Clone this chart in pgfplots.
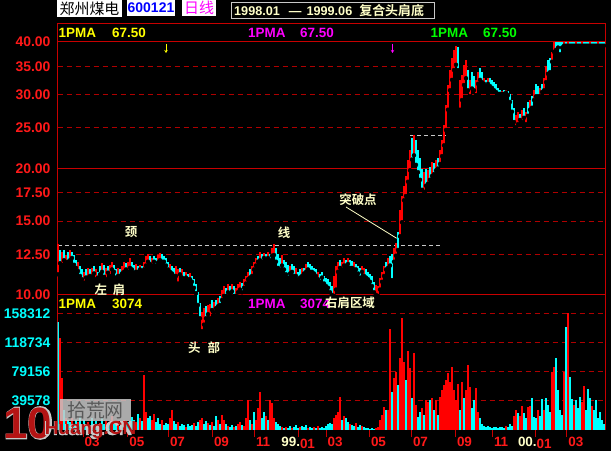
\documentclass[border=0pt]{standalone}
\usepackage{pgfplots}
\pgfplotsset{compat=1.18}
\usepackage{pgfplotstable}
\usepackage{fontspec}
\usetikzlibrary{arrows.meta}
\setmainfont{Liberation Sans}
\newfontfamily\cjk{Noto Sans CJK SC}[BoldFont={* Bold}]
\newfontfamily\wmthick{Liberation Sans}[FakeBold=6]

\definecolor{framec}{RGB}{200,0,0}
\definecolor{gridc}{RGB}{175,0,0}
\definecolor{labc}{RGB}{255,25,25}
\definecolor{upc}{RGB}{255,0,0}
\definecolor{dnc}{RGB}{0,255,255}
\definecolor{cream}{RGB}{255,255,200}
\definecolor{neck}{RGB}{200,200,200}
\definecolor{pmay}{RGB}{255,255,0}
\definecolor{pmam}{RGB}{255,0,255}
\definecolor{pmag}{RGB}{0,255,0}
\definecolor{wmred}{RGB}{180,20,20}
\definecolor{wmgray}{RGB}{200,200,200}

% daily bars: x position, low, high, bar colour (1 up / 0 down), volume, volume colour
\pgfplotstableread{
x lo hi cp v cv
58 11.2 13.2 1 146600 0
60 11.9 12.8 0 124800 1
62 11.8 12.65 1 70600 1
64 12.1 12.8 0 27100 0
66 11.95 12.45 1 16300 1
68 12.0 12.65 0 13600 0
70 12.1 12.8 1 10900 0
72 12.25 12.65 0 16300 1
74 11.8 12.45 0 8100 0
76 11.6 12.1 0 13600 0
78 11.4 12.0 1 10900 1
80 11.1 11.75 0 19000 0
82 10.9 11.5 0 8100 1
84 10.7 11.35 1 13600 0
86 11.0 11.5 0 8100 0
88 11.0 11.6 1 10900 1
90 11.1 11.5 0 6800 0
92 11.05 11.6 1 16300 0
94 11.25 11.75 0 8100 1
96 10.9 11.5 1 12200 0
98 11.0 11.35 0 5400 0
100 11.2 11.75 0 9500 1
102 11.35 11.9 1 16300 0
104 11.05 11.8 0 8100 0
106 10.9 11.6 1 12200 1
108 11.3 11.75 0 6800 0
110 11.1 11.8 1 10900 0
112 11.5 12.0 1 19000 1
114 11.35 11.8 0 8100 0
116 11.0 11.5 0 6800 0
118 11.1 11.6 1 12200 1
120 11.1 11.5 0 5400 0
122 11.25 11.75 1 9500 0
124 11.35 12.0 1 13600 1
126 11.5 11.9 0 8100 0
128 11.35 12.0 1 10900 0
130 11.6 12.25 1 6800 1
132 11.5 12.0 0 17600 0
134 11.3 11.8 0 13600 0
136 11.35 11.85 1 10900 1
138 11.35 11.75 0 21700 0
140 11.5 11.8 1 16300 1
142 11.35 11.75 0 12200 0
144 11.5 12.0 1 74600 1
146 11.75 12.4 1 24400 1
148 12.0 12.5 1 16300 0
150 11.85 12.4 0 19000 0
152 11.75 12.25 1 13600 1
154 12.0 12.4 0 21700 1
156 11.75 12.25 0 10900 0
158 11.95 12.45 1 16300 0
160 12.1 12.6 1 8100 0
162 12.0 12.5 0 13600 1
164 12.0 12.4 0 6800 0
166 11.75 12.25 0 9500 0
168 11.5 12.0 0 8100 0
170 11.35 11.85 1 16300 1
172 11.25 11.75 0 27100 1
174 11.1 11.6 0 12200 0
176 11.1 11.75 1 8100 0
178 10.65 11.5 1 10900 1
180 11.2 11.6 0 5400 0
182 11.0 11.5 1 8100 0
184 10.9 11.35 0 6800 0
186 11.0 11.35 1 4100 1
188 10.9 11.25 0 8100 0
190 10.9 11.3 1 5400 0
192 10.75 11.1 0 6800 0
194 10.4 10.9 0 9500 1
196 10.1 10.6 0 5400 0
198 9.47 10.15 0 10900 0
200 8.8 9.57 0 13600 1
202 8.2 9.1 1 16300 1
204 8.5 9.3 1 8100 0
206 8.8 9.4 0 12200 0
208 9.0 9.47 1 9500 1
210 8.8 9.5 1 6800 0
212 9.21 9.73 0 10900 1
214 9.1 9.6 1 5400 0
216 9.3 9.73 0 19000 0
218 9.4 9.85 1 13600 1
220 9.47 9.95 0 8100 0
222 9.73 10.3 1 20400 1
224 9.95 10.5 1 13600 1
226 9.95 10.4 0 8100 0
228 10.15 10.65 1 5400 1
230 10.05 10.5 0 4100 0
232 10.2 10.65 1 6800 0
234 9.95 10.5 0 4100 1
236 9.95 10.4 1 5400 0
238 10.15 10.65 1 8100 1
240 10.3 10.75 1 10900 1
242 10.15 10.7 0 6800 0
244 10.4 10.9 1 5400 1
246 10.65 11.1 1 16300 1
248 10.9 11.35 1 40700 1
250 11.0 11.5 0 13600 0
252 11.1 11.75 1 8100 1
254 11.5 12.0 1 24400 0
256 11.75 12.25 1 13600 1
258 12.0 12.4 0 29900 1
260 12.1 12.65 1 51600 1
262 12.0 12.5 0 16300 0
264 12.25 12.6 1 24400 0
266 12.1 12.5 0 19000 1
268 12.25 12.65 1 13600 0
270 12.1 12.5 0 40700 1
272 12.4 12.95 1 36600 1
274 12.45 13.2 1 16300 1
276 12.0 12.95 0 10900 0
278 11.6 12.5 0 8100 0
280 11.5 12.25 0 5400 0
282 11.75 12.45 1 4100 1
284 11.5 12.1 0 2700 0
286 11.2 12.0 0 4100 1
288 11.0 11.8 0 2700 0
290 11.25 11.75 1 5400 0
292 11.35 11.85 0 2700 1
294 11.1 11.75 0 4100 0
296 11.1 11.6 1 6800 0
298 10.9 11.35 0 2700 0
300 11.0 11.5 0 4100 1
302 11.1 11.6 1 5400 0
304 11.25 11.6 0 4100 0
306 11.35 11.85 1 6800 0
308 11.5 12.0 0 2700 1
310 11.35 11.85 0 4100 0
312 11.35 11.75 0 2700 0
314 11.25 11.6 0 4100 1
316 11.1 11.5 0 2700 0
318 10.9 11.35 1 5400 1
320 10.75 11.25 0 2700 0
322 11.0 11.35 0 4100 0
324 10.65 11.1 0 2700 0
326 10.5 11.0 0 5400 0
328 10.4 10.9 0 8100 0
330 10.15 10.75 0 9500 0
332 10.0 10.5 0 8100 0
334 9.95 11.1 1 16300 1
336 10.3 11.75 1 20400 1
338 11.35 12.0 1 24400 1
340 11.6 12.1 0 44800 1
342 11.5 12.0 1 13600 0
344 11.75 12.25 1 19000 1
346 11.75 12.1 0 16300 0
348 11.85 12.25 1 10900 0
350 11.6 12.1 0 8100 1
352 11.6 12.05 0 6800 0
354 11.5 12.0 1 5400 0
356 11.5 11.85 0 9500 1
358 11.25 11.75 0 4100 0
360 11.0 11.6 0 6800 0
362 11.35 11.75 1 5400 1
364 11.1 11.6 1 4100 0
366 11.0 11.5 0 2700 0
368 10.9 11.35 0 2700 0
370 10.75 11.25 0 1400 0
372 10.5 11.1 0 2700 0
374 10.15 10.75 0 1400 0
376 10.0 10.55 1 2700 1
378 9.95 10.5 1 4100 1
380 10.3 11.0 1 13600 1
382 10.75 11.35 1 20400 1
384 11.1 11.75 1 31200 1
386 11.5 12.0 0 27100 0
388 11.6 12.25 1 27100 1
390 11.75 12.4 0 137100 1
392 10.85 12.5 0 51600 0
394 12.0 12.95 1 70600 1
396 12.4 13.3 1 78700 1
398 12.8 14.1 0 61100 0
400 13.8 15.9 1 97700 1
402 14.9 17.2 1 152000 1
404 16.8 18.2 1 92300 1
406 17.2 19.2 1 67900 0
408 18.6 21.0 1 107200 1
410 19.8 22.1 1 84100 1
412 21.0 23.6 0 43400 0
414 21.5 24.0 1 104500 1
416 20.4 23.4 0 33900 1
418 19.6 22.1 0 17600 0
420 18.8 21.2 0 24400 0
422 17.8 20.0 0 29900 1
424 17.6 19.6 1 20400 0
426 18.2 20.0 0 40700 1
428 18.4 19.8 1 38000 1
430 18.8 20.2 0 40700 0
432 19.2 20.7 1 43400 1
434 19.4 20.6 0 27100 0
436 19.8 21.0 1 40700 1
438 20.0 21.2 0 20400 0
440 20.5 22.1 1 44800 1
442 21.4 23.4 1 54300 1
444 22.7 25.4 1 61100 1
446 24.7 28.3 1 67900 1
448 27.6 31.6 1 77300 1
450 30.7 34.3 1 65100 1
452 32.5 36.6 1 85500 1
454 34.3 38.3 1 54300 1
456 35.3 39.1 1 40700 1
458 34.3 38.9 0 62400 1
460 27.6 32.5 1 27100 0
462 29.1 33.4 1 65100 1
464 31.6 35.3 1 43400 0
466 32.8 36.2 1 54300 1
468 30.7 34.3 0 88200 1
470 29.7 32.5 1 58400 1
472 31.0 33.9 0 29900 0
474 30.7 33.2 0 40700 0
476 29.9 32.5 1 57000 1
478 31.8 33.9 1 24400 1
480 32.5 34.7 0 16300 0
482 32.1 33.9 0 8100 0
484 31.8 32.8 1 5400 0
486 31.4 32.5 0 4100 0
488 31.8 32.8 1 5400 0
490 31.4 32.8 0 4100 0
492 31.1 32.5 0 2700 0
494 30.7 32.1 0 4100 0
496 30.4 31.8 0 4100 0
498 30.1 31.1 0 2700 0
500 30.1 30.7 0 4100 0
502 30.1 30.5 1 4100 0
504 30.1 30.7 0 2700 0
506 30.3 30.7 1 5400 1
508 29.9 30.5 0 4100 0
510 28.8 30.0 0 8100 0
512 27.3 29.1 0 5400 0
514 25.8 27.9 0 19000 1
516 25.1 26.8 1 27100 1
518 25.5 27.2 1 23100 0
520 26.1 27.0 0 19000 1
522 25.8 27.6 1 32600 1
524 26.4 27.9 0 23100 0
526 25.5 27.2 1 16300 0
528 26.7 28.8 0 31200 1
530 27.6 29.1 1 32600 1
532 27.9 29.7 0 43400 0
534 29.1 30.7 1 17600 0
536 29.7 31.8 0 16300 0
538 29.7 31.4 0 27100 1
540 29.7 31.1 1 19000 0
542 30.4 31.8 0 42100 0
544 30.7 32.8 1 27100 1
546 32.1 35.1 1 43400 0
548 33.6 36.2 0 33900 0
550 33.9 36.6 0 24400 0
552 35.9 37.9 1 78700 1
554 37.9 39.9 1 85500 1
556 38.3 39.9 0 97700 0
558 38.8 39.9 0 54300 0
560 37.4 39.9 0 27100 0
562 38.8 39.9 0 20400 0
564 39.2 39.9 1 78700 1
566 39.2 39.9 0 139800 0
568 39.2 39.9 1 158312 1
570 39.2 39.9 0 71900 0
572 39.2 39.9 0 42100 0
574 39.2 39.9 0 33900 1
576 39.2 39.9 1 40700 0
578 39.2 39.9 0 29900 0
580 39.2 39.9 0 44800 0
582 39.2 39.9 1 38000 1
584 39.2 39.9 0 59700 1
586 39.2 39.9 0 27100 0
588 39.2 39.9 0 55600 0
590 39.2 39.9 1 43400 0
592 39.2 39.9 0 32600 1
594 39.2 39.9 0 27100 0
596 39.2 39.9 0 40700 0
598 39.2 39.9 1 16300 0
600 39.2 39.9 0 24400 0
602 39.2 39.9 0 13600 0
604 39.2 39.9 0 8100 0
}\kdata

% prices held above the panel ceiling, drawn pinned just under the 40.00 line
\pgfplotstableread{
x y
564 39.4
605 39.4
}\capline

\newcommand{\numf}[1]{\fontsize{#1}{#1}\selectfont\bfseries}

\begin{document}
\begin{tikzpicture}
\fill[black] (0,0) rectangle (611bp,451bp);

% ---- volume panel ----
\begin{axis}[
  at={(57.7bp,21bp)}, anchor=south west, scale only axis,
  width=547.6bp, height=135bp,
  xmin=57.7, xmax=605.3, ymin=0, ymax=183130,
  axis line style={framec, line width=1bp},
  scaled y ticks=false,
  ytick={39578,79156,118734,158312},
  yticklabels={39578,79156,118734,158312},
  ymajorgrids,
  major grid style={gridc, line width=0.9bp, dash pattern=on 5bp off 4bp},
  tick align=outside, major tick length=7bp,
  ytick style={draw=none},
  xtick style={framec, line width=1bp},
  xtick pos=bottom,
  yticklabel style={dnc, font=\numf{14}, anchor=east, inner sep=0pt},
  xtick={83,127.7,168.3,212.3,254.3,298.3,326,369.3,411.3,455.3,492.3,535,566.7},
  xticklabels={03,05,07,09,11,{\llap{\raisebox{2bp}{\textcolor{cream}{99.}}}01},03,05,07,09,11,{\llap{\raisebox{2bp}{\textcolor{cream}{00.}}}01},03},
  xticklabel style={labc, font=\numf{13.5}, anchor=north west, inner sep=0pt, xshift=1.5bp},
]
\addplot[ycomb, dnc, line width=1.3bp, restrict expr to domain={\thisrow{cv}}{0:0}] table[x=x, y=v] {\kdata};
\addplot[ycomb, upc, line width=1.3bp, restrict expr to domain={\thisrow{cv}}{1:1}] table[x=x, y=v] {\kdata};
\end{axis}

% ---- price panel (log scale) ----
\begin{axis}[
  at={(57.7bp,156bp)}, anchor=south west, scale only axis,
  width=547.6bp, height=253bp,
  xmin=57.7, xmax=605.3, ymin=10, ymax=40, ymode=log,
  clip=false,
  axis line style={framec, line width=1bp},
  xtick=\empty,
  ytick={12.5,15,17.5,25,30,35},
  yticklabels={12.50,15.00,17.50,25.00,30.00,35.00},
  extra y ticks={10,20,40},
  extra y tick labels={10.00,20.00,40.00},
  extra y tick style={grid=major, major grid style={framec, line width=1bp, solid}},
  ymajorgrids,
  major grid style={gridc, line width=0.9bp, dash pattern=on 5bp off 4bp},
  tick align=outside, major tick length=7bp,
  ytick style={draw=none},
  yticklabel style={labc, font=\numf{14}, anchor=east, inner sep=0pt},
]
% neckline and the upper resistance level
\addplot[neck, line width=1bp, dash pattern=on 4bp off 3bp] coordinates {(58,13.15) (440,13.15)};
\addplot[neck, line width=1bp, dash pattern=on 4bp off 3bp] coordinates {(410,24.0) (446,24.0)};
\addplot[only marks, mark=none, restrict expr to domain={\thisrow{cp}}{0:0},
  error bars/.cd, y dir=plus, y explicit, error mark=none,
  error bar style={draw=dnc, line width=1.3bp}]
  table[x=x, y=lo, y error expr=\thisrow{hi}-\thisrow{lo}] {\kdata};
\addplot[only marks, mark=none, restrict expr to domain={\thisrow{cp}}{1:1},
  error bars/.cd, y dir=plus, y explicit, error mark=none,
  error bar style={draw=upc, line width=1.3bp}]
  table[x=x, y=lo, y error expr=\thisrow{hi}-\thisrow{lo}] {\kdata};
\addplot[dnc, line width=2bp] table[x=x, y=y] {\capline};
\addplot[upc, line width=2bp, dash pattern=on 3bp off 9bp] table[x=x, y=y] {\capline};
\end{axis}

% ---- header frame and indicator row ----
\draw[framec, line width=1bp] (57.7bp,409bp) -- (57.7bp,427bp) -- (605.3bp,427bp) -- (605.3bp,409bp);
\begin{scope}[every node/.style={inner sep=0pt, anchor=west, font=\numf{13.5}}]
\node[pmay] at (58.5bp,418bp) {1PMA};
\node[pmay] at (112bp,418bp) {67.50};
\node[pmam] at (248bp,418bp) {1PMA};
\node[pmam] at (300bp,418bp) {67.50};
\node[pmag] at (430.5bp,418bp) {1PMA};
\node[pmag] at (483bp,418bp) {67.50};
\node[pmay] at (58.5bp,147bp) {1PMA};
\node[pmay] at (112bp,147bp) {3074};
\node[pmam] at (248bp,147bp) {1PMA};
\node[pmam] at (300bp,147bp) {3074};
\end{scope}
\draw[pmay, line width=1bp, -{Stealth[length=3bp,width=3.5bp]}] (166bp,407bp) -- (166bp,398bp);
\draw[pmam, line width=1bp, -{Stealth[length=3bp,width=3.5bp]}] (392.5bp,407bp) -- (392.5bp,398bp);

% ---- title strip ----
\fill[white] (57bp,434bp) rectangle (122bp,451bp);
\node[black, inner sep=0pt, font=\cjk\fontsize{15}{15}\selectfont] at (89.5bp,442.5bp) {郑州煤电};
\fill[white] (127bp,435bp) rectangle (175bp,451bp);
\node[blue, inner sep=0pt, font=\numf{14}] at (151bp,443bp) {600121};
\fill[white] (182bp,435bp) rectangle (216bp,451bp);
\node[pmam, inner sep=0pt, font=\cjk\fontsize{15}{15}\selectfont] at (199bp,443bp) {日线};
\draw[neck, line width=1bp] (231bp,432bp) rectangle (434.5bp,448.5bp);
\node[cream, inner sep=0pt, anchor=west, font=\numf{12.7}] at (234bp,440bp)
  {1998.01\hspace{9bp}—\hspace{5bp}1999.06\hspace{7bp}{\cjk\bfseries\fontsize{13}{13}\selectfont 复合头肩底}};

% ---- pattern annotations ----
\begin{scope}[every node/.style={cream, inner sep=0pt, font=\cjk\bfseries\fontsize{12.5}{12.5}\selectfont}]
\node at (131bp,218.5bp) {颈};
\node at (284bp,218.5bp) {线};
\node at (110bp,161bp) {左\hspace{6bp}肩};
\node at (204bp,103bp) {头\hspace{7bp}部};
\node at (358bp,251.5bp) {突破点};
\node at (350bp,148bp) {右肩区域};
\end{scope}
\draw[cream, line width=0.8bp] (346bp,244bp) -- (396.7bp,212.7bp);

% ---- site watermark ----
\fill[wmgray, opacity=0.85] (60bp,30bp) rectangle (131bp,52bp);
\node[black!65, inner sep=0pt, font=\cjk\fontsize{19}{19}\selectfont] at (95.5bp,41bp) {拾荒网};
\node[wmgray, inner sep=0pt, font=\wmthick\fontsize{44}{44}\selectfont] at (28bp,28bp) {10};
\node[wmred, inner sep=0pt, font=\fontsize{44}{44}\selectfont\bfseries] at (28bp,28bp) {10};
\node[wmgray, inner sep=0pt, anchor=west, font=\wmthick\fontsize{19}{19}\selectfont] at (44bp,21bp) {Huang.CN};
\node[wmred, inner sep=0pt, anchor=west, font=\fontsize{19}{19}\selectfont\bfseries] at (44.6bp,21bp) {Huang.CN};

\pgfresetboundingbox
\useasboundingbox (0,0) rectangle (611bp,451bp);
\end{tikzpicture}
\end{document}
